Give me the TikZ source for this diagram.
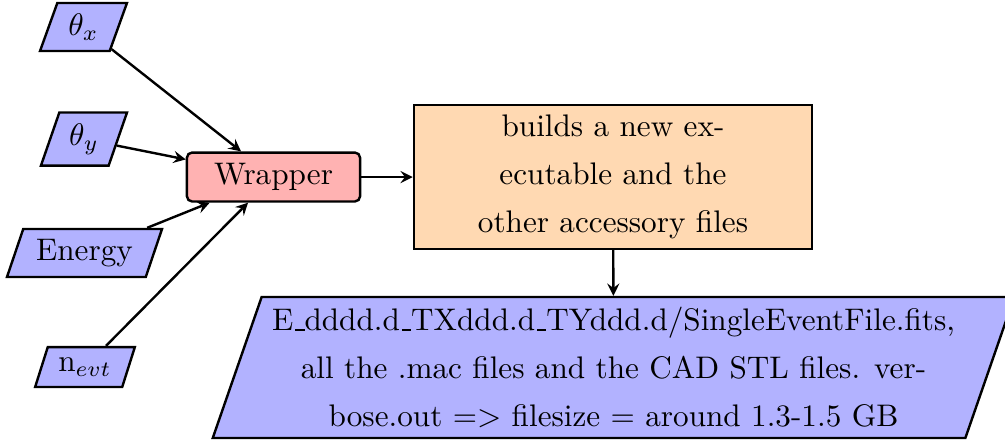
\RequirePackage{fix-cm}
\documentclass[tikz,border=0pt]{standalone}
\usetikzlibrary{shapes.geometric,arrows}

% short low rule, as the classic \_ of the OT1 fonts
\newcommand\lowbar{\leavevmode\kern.06em\vbox{\hrule width.3em}}

\tikzset{
  every node/.style={font=\fontsize{10.4}{16}\selectfont},
  io/.style={trapezium, trapezium left angle=70, trapezium right angle=110,
    trapezium stretches=true, draw=black, thick, fill=blue!30,
    inner sep=2pt, align=center},
  startstop/.style={rectangle, rounded corners=1.7pt, draw=black, thick,
    fill=red!30, inner sep=2pt},
  process/.style={rectangle, draw=black, thick, fill=orange!30,
    inner sep=2pt, align=center},
  arrow/.style={thick, ->, >=stealth}
}

\begin{document}
\begin{tikzpicture}[x=0.3333pt, y=-0.3333pt]
\useasboundingbox (0,0) rectangle (1005,441);

% inputs
\node[io, minimum width=29.0pt, minimum height=16.0pt] (tx) at (83.5,27) {$\theta_x$};
\node[io, minimum width=28.7pt, minimum height=17.7pt] (ty) at (84,139) {$\theta_y$};
\node[io, minimum width=51.7pt, minimum height=16.0pt] (en) at (84.5,253) {Energy};
\node[io, minimum width=33.3pt, minimum height=13.3pt] (nev) at (85,367) {n$_{evt}$};

% wrapper and build step
\node[startstop, minimum width=57.7pt, minimum height=16.3pt] (wr) at (273.5,177) {Wrapper};
\node[process, minimum width=132.7pt, minimum height=48pt] (bld) at (613,177)
  {builds a new ex-\\ecutable and the\\other accessory files};

% output
\node[io, minimum width=267.6pt, minimum height=47pt] (out) at (613.5,367.5)
  {E\lowbar dddd.d\lowbar TXddd.d\lowbar TYddd.d/SingleEventFile.fits,\\
   all the .mac files and the CAD STL files. ver-\\
   bose.out => filesize = around 1.3-1.5 GB};

% connectors
\draw[arrow] (tx) -- (wr);
\draw[arrow] (ty) -- (wr);
\draw[arrow] (en) -- (wr);
\draw[arrow] (nev) -- (wr);
\draw[arrow] (wr) -- (bld);
\draw[arrow] (bld) -- (out);
\end{tikzpicture}
\end{document}
